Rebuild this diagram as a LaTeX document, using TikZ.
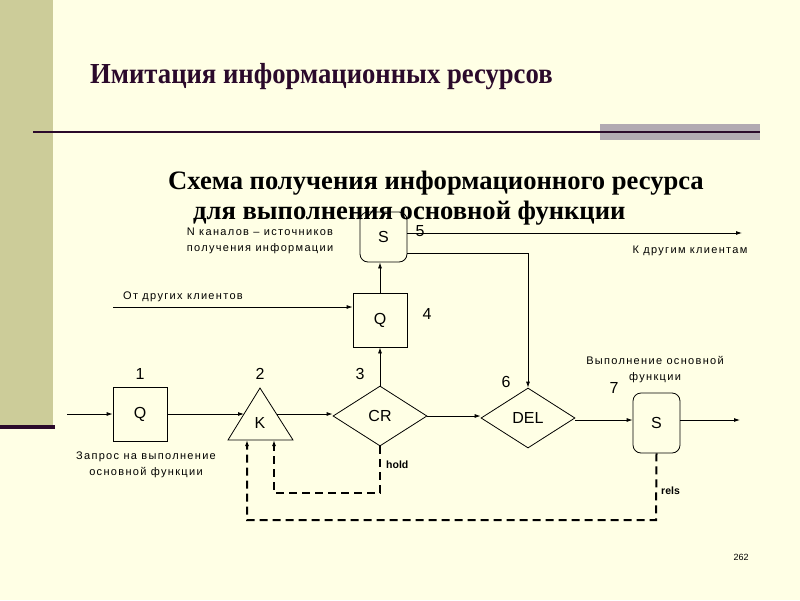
\documentclass[tikz,border=0pt]{standalone}
\usepackage{fontspec}
\setmainfont{Liberation Serif}
\setsansfont{Liberation Sans}
\newfontfamily\lab[LetterSpace=12]{Liberation Sans}
\usetikzlibrary{arrows.meta,shapes.geometric}
\definecolor{bg}{RGB}{255,255,229}
\definecolor{olive}{RGB}{204,204,153}
\definecolor{dpurp}{RGB}{43,10,43}
\definecolor{gbar}{RGB}{178,170,178}
\tikzset{
  blk/.style={draw,line width=0.8pt,minimum width=54pt,minimum height=54pt,inner sep=0pt,font=\sffamily\fontsize{16}{16}\selectfont},
  srv/.style={draw,line width=0.8pt,rounded corners=8pt,minimum width=47pt,minimum height=60pt,inner sep=0pt,font=\sffamily\fontsize{16}{16}\selectfont},
  dia/.style={draw,line width=0.8pt,diamond,aspect=1.57,minimum width=94pt,minimum height=60pt,inner sep=0pt,font=\sffamily\fontsize{16}{16}\selectfont},
  num/.style={font=\sffamily\fontsize{16}{16}\selectfont,inner sep=0pt},
  small/.style={font=\lab\fontsize{11}{16}\selectfont,inner sep=0pt,align=center},
  bold/.style={font=\sffamily\bfseries\fontsize{10.5}{12}\selectfont,inner sep=0pt},
  ar/.style={-{Latex[length=6pt,width=4pt]},line width=0.8pt},
  dar/.style={-{Latex[length=6pt,width=4pt]},line width=2pt,dash pattern=on 8pt off 5pt}
}
\begin{document}
\begin{tikzpicture}[x=1pt,y=-1pt]
\useasboundingbox (0,0) rectangle (800,600);
\fill[bg] (0,0) rectangle (800,600);
\fill[olive] (0,0) rectangle (53,425);
\fill[dpurp] (0,425) rectangle (55,429);
\fill[gbar] (600,124) rectangle (760,140);
\draw[dpurp,line width=2.2pt] (33,132) -- (760,132);
\node[anchor=west,inner sep=0pt,text=dpurp] (title) at (90,77) {\scalebox{0.92}[1]{\fontsize{29}{32}\selectfont\bfseries Имитация информационных ресурсов}};

% diagram
\node[srv,minimum height=50pt] (s5) at (383.5,237) {S};
\node[blk] (q4) at (380,320) {Q};
\node[dia] (cr) at (380,416) {CR};
\node[blk] (q1) at (140,414) {Q};
\coordinate (kA) at (260,388);
\coordinate (kB) at (228,440);
\coordinate (kC) at (293,440);
\draw[line width=0.8pt] (kA) -- (kB) -- (kC) -- cycle;
\node[font=\sffamily\fontsize{16}{16}\selectfont] (k) at (260,423) {K};
\coordinate (kL) at (244,414);
\coordinate (kR) at (277,414);
\node[dia] (del) at (528,418) {DEL};
\node[srv] (s7) at (656.5,423) {S};

\node[num] (n1) at (140,374) {1};
\node[num] (n2) at (260,374) {2};
\node[num] (n3) at (360,374) {3};
\node[num] (n4) at (427,314) {4};
\node[num] (n5) at (420,231) {5};
\node[num] (n6) at (506,382) {6};
\node[num] (n7) at (614,388) {7};

\node[small] (lN) at (260,241) {N каналов – источников\\получения информации};
\node[small] (lK) at (690,251) {К другим клиентам};
\node[small] (lO) at (183,297) {От других клиентов};
\node[small] (lV) at (655,370) {Выполнение основной\\функции};
\node[small] (lZ) at (146,465) {Запрос на выполнение\\основной функции};
\node[bold,anchor=west] (lh) at (386,465) {hold};
\node[bold,anchor=west] (lr) at (661,491) {rels};
\node[font=\sffamily\fontsize{9}{10}\selectfont,inner sep=0pt] (pg) at (741,557) {262};

\coordinate (in1) at (67,414);
\coordinate (o1) at (113,307);
\coordinate (o2) at (742,233);
\coordinate (o3) at (740,420);
\coordinate (c1) at (528,253);
\coordinate (h1) at (380,493);
\coordinate (h2) at (274,493);
\coordinate (h3) at (274,440);
\coordinate (r1) at (656,520);
\coordinate (r2) at (247,520);
\coordinate (r3) at (247,440);

\draw[ar] (in1) -- (q1.west);
\draw[ar] (q1.east) -- (kL);
\draw[ar] (kR) -- (kR -| cr.west);
\draw[ar] (cr.north) -- (q4.south);
\draw[ar] (q4.north) -- (q4.north |- s5.south);
\draw[ar] (o1) -- (o1 -| q4.west);
\draw[ar] (s5.east |- o2) -- (o2);
\draw[ar] (s5.east |- c1) -- (c1) -- (del.north);
\draw[ar] (cr.east |- 0,416) -- (del.west |- 0,416);
\draw[ar] (del.east |- 0,420) -- (s7.west |- 0,420);
\draw[ar] (s7.east |- 0,420) -- (o3);
\draw[dar] (cr.south) -- (h1) -- (h2) -- (h3);
\draw[dar] (s7.south) -- (r1) -- (r2) -- (r3);

\node[anchor=center,inner sep=0pt] (sub) at (436,198) {\fontsize{26.6}{30}\selectfont\bfseries\begin{tabular}{@{}l@{}}Схема получения информационного ресурса\\\hspace{25pt}для выполнения основной функции\end{tabular}};
\end{tikzpicture}
\end{document}
